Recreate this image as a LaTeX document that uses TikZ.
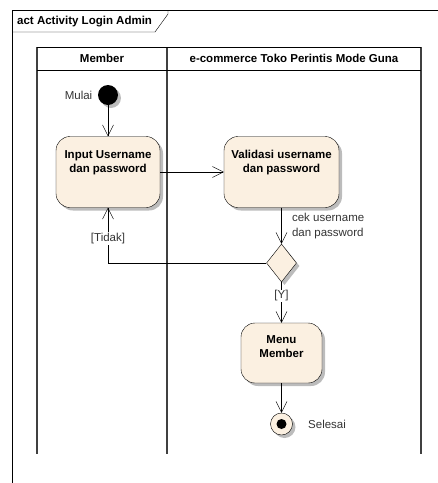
\documentclass[tikz,border=0pt]{standalone}
\usepackage{fontspec}
\setmainfont{Liberation Sans}
\usetikzlibrary{arrows.meta,positioning,shapes.geometric,shadows}
\definecolor{actfill}{RGB}{251,240,225}
\tikzset{>={Straight Barb[length=11pt,width=11pt]},
  shade3/.style={drop shadow={shadow xshift=3pt,shadow yshift=-3pt,fill=black!35,opacity=.75}},
  act/.style={draw,fill=actfill,rounded corners=14pt,shade3},
  acttxt/.style={font=\bfseries\fontsize{11.5}{14}\selectfont,align=center,inner sep=0pt},
  lbl/.style={font=\fontsize{11.5}{15}\selectfont,text=black!80,align=left},
  guard/.style={lbl,fill=white,inner sep=1pt},
  lane/.style={draw=black!75,line width=1.3pt}}

\begin{document}
\begin{tikzpicture}[x=1pt,y=-1pt]
    \useasboundingbox (0,0) rectangle (438,483);
    % frame
    \draw (12,483) -- (12,10) -- (438,10);
    \draw (12,32) -- (155,32) -- (168,14) -- (168,10);
    \node[acttxt,anchor=west] (frametitle) at (17,21.5) {act Activity Login Admin};
    % swimlanes
    \draw[lane] (37,47) -- (37,454) (167,47) -- (167,454) (421,47) -- (421,454);
    \draw (37,47) -- (421,47) (37,70) -- (421,70);
    \node[acttxt] (membertxt) at (102,58.5) {Member};
    \node[acttxt] (ecomtxt) at (294,58.5) {e-commerce Toko Perintis Mode Guna};
    % nodes
    \node[circle,fill=black,minimum size=20pt,inner sep=0pt,shade3] (start) at (108,95) {};
    \node[lbl,left=2pt of start] (mulaitxt) {Mulai};
    \node[act,minimum width=104pt,minimum height=71pt] (input) at (108,172) {};
    \node[acttxt,below=14pt of input.north] (inputtxt) {Input Username\\dan password};
    \node[act,minimum width=115pt,minimum height=71pt] (validasi) at (281.5,172) {};
    \node[acttxt,below=14pt of validasi.north] (validasitxt) {Validasi username\\dan password};
    \node[diamond,draw,fill=actfill,minimum width=30pt,minimum height=38pt,inner sep=0pt,shade3] (cek) at (281.5,263) {};
    \node[act,minimum width=81pt,minimum height=60pt] (menu) at (281.5,353) {};
    \node[acttxt,below=13pt of menu.north] (menutxt) {Menu\\Member};
    \node[circle,draw,fill=actfill,minimum size=22pt,inner sep=0pt,shade3] (end) at (281.5,424) {};
    \node[circle,fill=black,minimum size=10pt,inner sep=0pt] (enddot) at (end) {};
    \node[lbl,right=12pt of end] (selesaitxt) {Selesai};
    % flows
    \draw[->] (start) -- (input);
    \draw[->] (input) -- (validasi);
    \draw[->] (validasi) -- (cek) node[lbl,pos=.5,right=7pt] {cek username\\dan password};
    \draw[->] (cek.west) -| (input.south) node[guard,pos=.72] {[Tidak]};
    \draw[->] (cek) -- (menu) node[guard,pos=.34] {[Y]};
    \draw[->] (menu) -- (end);
\end{tikzpicture}
\end{document}
